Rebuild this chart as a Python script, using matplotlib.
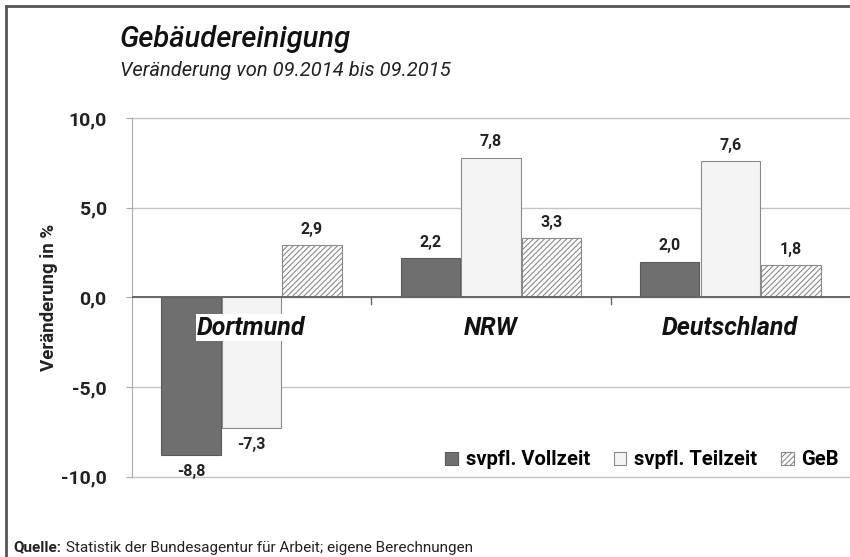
import numpy as np
import matplotlib.pyplot as plt
from matplotlib.patches import Patch
from matplotlib.lines import Line2D

plt.rcParams['font.family'] = ['Roboto', 'DejaVu Sans']
plt.rcParams['hatch.linewidth'] = 0.8
plt.rcParams['hatch.color'] = '#8a8a8a'

# data
regions = ['Dortmund', 'NRW', 'Deutschland']
series = ['svpfl. Vollzeit', 'svpfl. Teilzeit', 'GeB']
vollzeit = [-8.8, 2.2, 2.0]
teilzeit = [-7.3, 7.8, 7.6]
geb = [2.9, 3.3, 1.8]
yticks = [-10, -5, 0, 5, 10]

fig = plt.figure(figsize=(8.5, 5.57), dpi=100)
ax = fig.add_axes([0.155, 0.144, 0.845, 0.644])

x = np.arange(len(regions))
w = 0.253
styles = [
    dict(color='#6f6f6f', edgecolor='#5a5a5a'),
    dict(color='#f4f4f4', edgecolor='#8a8a8a'),
    dict(color='white', edgecolor='#8a8a8a', hatch='//////'),
]
for i, (vals, st) in enumerate(zip([vollzeit, teilzeit, geb], styles)):
    bars = ax.bar(x + (i - 1) * w, vals, w * 0.98, linewidth=0.8, zorder=2, **st)
    labels = [f'{v:.1f}'.replace('.', ',') for v in vals]
    ax.bar_label(bars, labels=labels, padding=6, fontsize=11.5, fontweight='bold', color='#222222')

ax.set_xlim(-0.5, 2.5)
ax.set_ylim(-10, 10)
ax.set_yticks(yticks)
ax.set_yticklabels([f'{t:.1f}'.replace('.', ',') for t in yticks], fontsize=14, fontweight='bold', color='#222222')
ax.yaxis.grid(True, color='#c4c4c4', linewidth=1.0, zorder=0)
for gl in ax.get_ygridlines():
    gl.set_clip_on(False)
ax.set_axisbelow(True)
ax.axhline(0, color='#666666', linewidth=1.4, zorder=3)
ax.set_xticks([0.5, 1.5])
ax.set_xticklabels([])
ax.tick_params(axis='x', length=0)
for xs in [0.5, 1.5]:
    ax.plot([xs, xs], [0, -0.35], color='#666666', linewidth=1, zorder=3)
ax.tick_params(axis='y', length=4, color='#aaaaaa', pad=14)
for s in ['top', 'right', 'bottom']:
    ax.spines[s].set_visible(False)
ax.spines['left'].set_color('#aaaaaa')
ax.set_ylabel('Veränderung in %', fontsize=13.5, fontweight='bold', color='#222222', labelpad=2)

for xi, name in zip(x, regions):
    ax.text(xi, -1.7, name, ha='center', va='center', fontsize=18, fontweight='bold',
            style='italic', color='#111111', zorder=5,
            bbox=dict(facecolor='white', edgecolor='none', pad=1) if name == 'Dortmund' else None)

handles = [Patch(facecolor=st['color'], edgecolor=st['edgecolor'], hatch=st.get('hatch'), linewidth=0.8)
           for st in styles]
ax.legend(handles, series, loc='lower right', bbox_to_anchor=(1.01, -0.03), ncol=3, frameon=False,
          prop=dict(size=14.5, weight='bold'), handlelength=0.6, handleheight=0.6,
          handletextpad=0.4, columnspacing=1.2)

fig.text(0.141, 0.93, 'Gebäudereinigung', fontsize=21, style='italic', fontweight='medium',
         color='#111111', va='center')
fig.text(0.141, 0.873, 'Veränderung von 09.2014 bis 09.2015', fontsize=14.5, style='italic',
         color='#222222', va='center')

q = fig.text(0.016, 0.017, 'Quelle:', fontsize=11, fontweight='bold', color='#222222', va='center')
ax.annotate('Statistik der Bundesagentur für Arbeit; eigene Berechnungen', xy=(1, 0.5), xycoords=q,
            xytext=(3, 0), textcoords='offset points', va='center', fontsize=11, color='#222222',
            annotation_clip=False)

fig.add_artist(Line2D([0.007, 0.007], [0.0, 0.99], color='#555555', linewidth=2))
fig.add_artist(Line2D([0.007, 1.0], [0.99, 0.99], color='#555555', linewidth=2))

fig.savefig('out.png', dpi=100)
